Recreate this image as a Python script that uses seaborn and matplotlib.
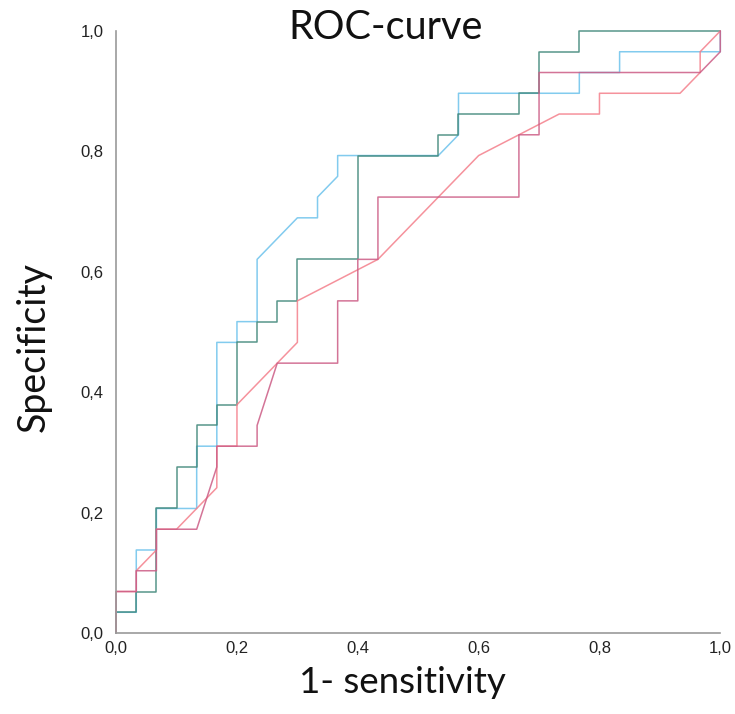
import matplotlib
matplotlib.use("Agg")
import matplotlib.pyplot as plt
import seaborn as sns
import pandas as pd

# ROC vertices, in step counts
# (30 negatives along x, 29 positives along y)
N_X = 30
N_Y = 29

blue_x = [0, 0, 1, 1, 2, 2, 4, 4, 5, 5, 6, 6, 7, 7, 9, 10, 10, 11, 11, 16, 17, 17, 23, 23, 25, 25, 30, 30]
blue_y = [0, 1, 1, 4, 4, 6, 6, 9, 9, 14, 14, 15, 15, 18, 20, 20, 21, 22, 23, 23, 24, 26, 26, 27, 27, 28, 28, 29]

teal_x = [0, 0, 1, 1, 2, 2, 3, 3, 4, 4, 5, 5, 6, 6, 7, 7, 8, 8, 9, 9, 12, 12, 16, 16, 17, 17, 20, 20, 21, 21, 23, 23, 30]
teal_y = [0, 1, 1, 2, 2, 6, 6, 8, 8, 10, 10, 11, 11, 14, 14, 15, 15, 16, 16, 18, 18, 23, 23, 24, 24, 25, 25, 26, 26, 28, 28, 29, 29]

salmon_x = [0, 0, 1, 1, 2, 2, 3, 5, 5, 6, 6, 9, 9, 13, 18, 22, 24, 24, 28, 29, 29, 30]
salmon_y = [0, 2, 2, 3, 4, 5, 5, 7, 9, 9, 11, 14, 16, 18, 23, 25, 25, 26, 26, 27, 28, 29]

mauve_x = [0, 0, 1, 1, 2, 2, 4, 5, 5, 7, 7, 8, 11, 11, 12, 12, 13, 13, 20, 20, 21, 21, 29, 30, 30]
mauve_y = [0, 2, 2, 3, 3, 5, 5, 8, 9, 9, 10, 13, 13, 16, 16, 18, 18, 21, 21, 24, 24, 27, 27, 28, 29]

curve_names = ["blue", "teal", "salmon", "mauve"]
curve_colors = {"blue": "#6cc2ec", "teal": "#3b8476", "salmon": "#f47f8b", "mauve": "#cc5c85"}

tick_values = [0.0, 0.2, 0.4, 0.6, 0.8, 1.0]
tick_labels = ["0,0", "0,2", "0,4", "0,6", "0,8", "1,0"]

# long table for seaborn
rows = []
for name, xs, ys in zip(curve_names,
                        [blue_x, teal_x, salmon_x, mauve_x],
                        [blue_y, teal_y, salmon_y, mauve_y]):
    for k, (a, b) in enumerate(zip(xs, ys)):
        rows.append({"curve": name, "order": k, "fpr": a / N_X, "tpr": b / N_Y})
df = pd.DataFrame(rows)

sns.set_style("white")
plt.rcParams["font.family"] = ["Liberation Sans", "DejaVu Sans"]

fig = plt.figure(figsize=(7.35, 7.14), dpi=100)
ax = fig.add_axes([0.158, 0.1134, 0.822, 0.8432])

sns.lineplot(data=df, x="fpr", y="tpr", hue="curve", palette=curve_colors,
             hue_order=curve_names, sort=False, estimator=None, units="curve",
             linewidth=1.1, alpha=0.85, legend=False, ax=ax, clip_on=False)

ax.set_xlim(0, 1)
ax.set_ylim(0, 1)
ax.set_xticks(tick_values)
ax.set_xticklabels(tick_labels)
ax.set_yticks(tick_values)
ax.set_yticklabels(tick_labels)
ax.tick_params(axis="both", length=0, labelsize=12, colors="#222222")
ax.tick_params(axis="x", pad=6)
ax.tick_params(axis="y", pad=9)
ax.set_xlabel("")
ax.set_ylabel("")

sns.despine(ax=ax)
for side in ["left", "bottom"]:
    ax.spines[side].set_color("#9a9a9a")
    ax.spines[side].set_linewidth(1.2)

# axis titles and chart title placed like the original
fig.text(0.548, 0.044, "1- sensitivity", fontfamily="Lato", fontsize=26.5,
         ha="center", va="center", color="#111111")
fig.text(0.046, 0.514, "Specificity", fontfamily="Lato", fontsize=27,
         rotation=90, ha="center", va="center", color="#111111")
fig.text(0.524, 0.962, "ROC-curve", fontfamily="Lato", fontsize=28.5,
         ha="center", va="center", color="#111111")

fig.savefig("out.png", dpi=100, facecolor="white")
